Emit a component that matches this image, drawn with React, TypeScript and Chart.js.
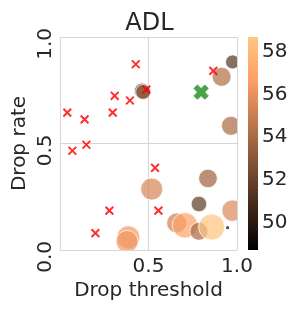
import React, { useEffect, useRef } from 'react';
import { Chart, registerables } from 'chart.js';

Chart.register(...registerables);

// ---- data ----
const xTicks = [0, 0.5, 1];
const yTicks = [0, 0.5, 1];
const cbTicks = [50, 52, 54, 56, 58];
const cbMin = 48.72;
const cbMax = 58.69;

// circles: drop threshold, drop rate, colour value, marker size
const circleX = [0.975, 0.913, 0.465, 0.47, 0.966, 0.518, 0.836, 0.785, 0.975, 0.659, 0.706, 0.785, 0.857, 0.386, 0.379];
const circleY = [0.883, 0.813, 0.746, 0.742, 0.583, 0.286, 0.336, 0.216, 0.185, 0.127, 0.116, 0.088, 0.108, 0.060, 0.040];
const circleValue = [51.3, 54.2, 52.2, 53.0, 54.0, 55.4, 53.6, 51.6, 55.6, 55.2, 56.8, 54.0, 58.5, 56.4, 56.2];
const circleSize = [7, 9.5, 8, 7.5, 9.5, 11, 9.3, 7.8, 10.7, 10, 12.7, 9, 13, 11.5, 11];

// small dot
const dotX = [0.947];
const dotY = [0.105];
const dotValue = [49.0];

// red crosses
const crossX = [0.041, 0.070, 0.139, 0.149, 0.200, 0.279, 0.298, 0.309, 0.395, 0.428, 0.488, 0.537, 0.556, 0.866];
const crossY = [0.645, 0.466, 0.613, 0.494, 0.079, 0.185, 0.645, 0.724, 0.702, 0.872, 0.753, 0.386, 0.185, 0.841];

// green best point
const bestX = [0.797];
const bestY = [0.741];

const FONT = 'DejaVu Sans';
const TEXT = '#262626';
const GRID = '#d6d6d6';

function copper(t: number, a = 1) {
  const tt = Math.max(0, Math.min(1, t));
  const r = Math.min(1, 1.25 * tt) * 255;
  const g = 0.7812 * tt * 255;
  const b = 0.4975 * tt * 255;
  return `rgba(${r.toFixed(0)},${g.toFixed(0)},${b.toFixed(0)},${a})`;
}
function valueColor(v: number, a = 1) {
  return copper((v - cbMin) / (cbMax - cbMin), a);
}

function makeXMarker() {
  const c = document.createElement('canvas');
  const s = 16;
  c.width = s;
  c.height = s;
  const ctx = c.getContext('2d')!;
  ctx.translate(s / 2, s / 2);
  ctx.rotate(Math.PI / 4);
  const L = 7.6;
  const W = 2.4;
  ctx.beginPath();
  ctx.moveTo(-W, -L); ctx.lineTo(W, -L); ctx.lineTo(W, -W); ctx.lineTo(L, -W);
  ctx.lineTo(L, W); ctx.lineTo(W, W); ctx.lineTo(W, L); ctx.lineTo(-W, L);
  ctx.lineTo(-W, W); ctx.lineTo(-L, W); ctx.lineTo(-L, -W); ctx.lineTo(-W, -W);
  ctx.closePath();
  ctx.fillStyle = 'rgba(20,140,20,0.78)';
  ctx.fill();
  ctx.strokeStyle = 'rgba(20,120,20,0.9)';
  ctx.lineWidth = 0.8;
  ctx.stroke();
  return c;
}

const colorbarPlugin = {
  id: 'colorbar',
  afterDraw(chart: any) {
    const s = chart.scales.cb;
    const ca = chart.chartArea;
    const ctx = chart.ctx;
    const top = s.getPixelForValue(cbMax);
    const bottom = s.getPixelForValue(cbMin);
    const x0 = ca.right + 11;
    const w = 10;
    const g = ctx.createLinearGradient(0, bottom, 0, top);
    for (let i = 0; i <= 20; i++) g.addColorStop(i / 20, copper(i / 20));
    ctx.save();
    ctx.fillStyle = g;
    ctx.fillRect(x0, top, w, bottom - top);
    ctx.restore();
  },
};

export default function App() {
  const ref = useRef<HTMLCanvasElement>(null);
  useEffect(() => {
    const font = { family: FONT, size: 20 };
    const chart = new Chart(ref.current!, {
      type: 'scatter',
      data: {
        datasets: [
          {
            data: bestX.map((x, i) => ({ x, y: bestY[i] })),
            pointStyle: makeXMarker() as any,
            pointRadius: 8,
          },
          {
            data: crossX.map((x, i) => ({ x, y: crossY[i] })),
            pointStyle: 'crossRot',
            pointRadius: 5.5,
            borderColor: 'rgba(255,0,0,0.82)',
            borderWidth: 2,
          },
          {
            data: dotX.map((x, i) => ({ x, y: dotY[i] })),
            pointRadius: 1.6,
            backgroundColor: dotValue.map((v) => valueColor(v, 0.7)),
            borderWidth: 0,
          },
          {
            data: circleX.map((x, i) => ({ x, y: circleY[i] })),
            pointRadius: circleSize,
            backgroundColor: circleValue.map((v) => valueColor(v, 0.7)),
            borderColor: 'rgba(255,255,255,0.9)',
            borderWidth: 0.8,
          },
        ],
      },
      options: {
        responsive: false,
        animation: false,
        events: [],
        layout: { padding: 0 },
        plugins: {
          legend: { display: false },
          tooltip: { enabled: false },
          title: {
            display: true,
            text: 'ADL',
            color: TEXT,
            font: { family: FONT, size: 24, weight: 'normal', lineHeight: 1 },
            padding: { top: 9, bottom: 1 },
          },
        },
        scales: {
          x: {
            type: 'linear',
            position: 'bottom',
            min: 0,
            max: 1,
            afterBuildTicks: (s: any) => { s.ticks = xTicks.map((v) => ({ value: v })); },
            afterFit: (s: any) => { s.height = 61; },
            grid: { color: GRID, drawTicks: false, lineWidth: 1 },
            border: { display: false },
            ticks: {
              color: TEXT,
              font,
              padding: 5,
              maxRotation: 0,
              callback: (v: any) => (v === 0 ? '' : Number(v).toFixed(1)),
            },
            title: {
              display: true,
              text: 'Drop threshold',
              color: TEXT,
              font,
              padding: { top: 0, bottom: 8 },
            },
          },
          y: {
            type: 'linear',
            position: 'left',
            min: 0,
            max: 1,
            afterBuildTicks: (s: any) => { s.ticks = yTicks.map((v) => ({ value: v })); },
            afterFit: (s: any) => { s.width = 60; },
            grid: { color: GRID, drawTicks: false, lineWidth: 1 },
            border: { display: false },
            ticks: {
              color: TEXT,
              font,
              padding: 14,
              minRotation: 90,
              maxRotation: 90,
              labelOffset: -9,
              callback: (v: any) => Number(v).toFixed(1),
            },
            title: {
              display: true,
              text: 'Drop rate',
              color: TEXT,
              font,
              padding: { top: 8, bottom: 0 },
            },
          },
          cb: {
            type: 'linear',
            position: 'right',
            min: cbMin,
            max: cbMax,
            afterBuildTicks: (s: any) => { s.ticks = cbTicks.map((v) => ({ value: v })); },
            afterFit: (s: any) => { s.width = 62; },
            grid: { display: false, drawTicks: false },
            border: { display: false },
            ticks: {
              color: TEXT,
              font,
              padding: 25,
              callback: (v: any) => String(v),
            },
          },
        },
      } as any,
      plugins: [colorbarPlugin],
    });
    return () => chart.destroy();
  }, []);
  return (
    <div style={{ position: 'absolute', left: 0, top: 0, width: 299, height: 311, background: '#fff' }}>
      <canvas ref={ref} width={299} height={311} style={{ width: 299, height: 311, display: 'block' }} />
    </div>
  );
}
